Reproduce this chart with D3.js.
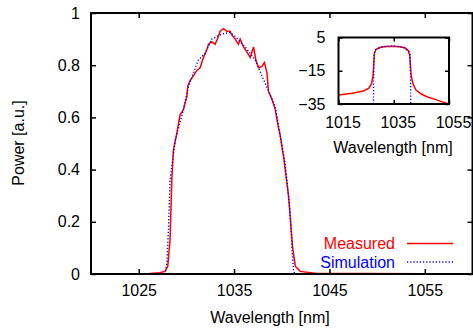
<!DOCTYPE html>
<meta charset="utf-8">
<script src="https://d3js.org/d3.v7.min.js"></script>
<style>
  body { margin: 0; background: #fff; }
  text { font-family: "Liberation Sans", Arial, sans-serif; }
</style>
<div id="chart"></div>
<script>
// main spectrum, linear power
var measWl = [1020, 1026.2, 1027.2, 1027.75, 1028.05, 1028.29, 1028.47, 1028.64, 1029.0, 1029.34, 1029.69, 1030.05, 1030.15, 1030.39,
  1030.74, 1031.1, 1031.44, 1031.79, 1032.15, 1032.32, 1032.67, 1033.02, 1033.36, 1033.54, 1033.89, 1034.25, 1034.59, 1034.77,
  1035.12, 1035.46, 1035.64, 1035.99, 1036.35, 1036.69, 1036.87, 1037.04, 1037.29, 1037.56, 1037.92, 1038.19, 1038.45, 1038.61,
  1038.97, 1039.32, 1039.66, 1039.84, 1040.19, 1040.71, 1041.13, 1041.42, 1041.94, 1043.5, 1060];
var measPow = [0, 0.002, 0.005, 0.01, 0.03, 0.13, 0.36, 0.475, 0.54, 0.61, 0.63, 0.68, 0.72, 0.74,
  0.76, 0.78, 0.79, 0.83, 0.86, 0.88, 0.89, 0.88, 0.91, 0.93, 0.94, 0.93, 0.93, 0.915,
  0.90, 0.88, 0.90, 0.87, 0.85, 0.83, 0.85, 0.87, 0.82, 0.79, 0.795, 0.81, 0.77, 0.70,
  0.67, 0.63, 0.56, 0.53, 0.45, 0.30, 0.105, 0.03, 0.01, 0.003, 0];

var simWl = [1020, 1027.77, 1027.95, 1028.12, 1028.29, 1028.82, 1029.69, 1030.21, 1031.26, 1031.97, 1032.67, 1033.71, 1034.59,
  1035.12, 1036.17, 1037.22, 1038.27, 1039.32, 1039.84, 1040.37, 1040.89, 1041.07, 1041.24, 1041.4, 1060];
var simPow = [0, 0, 0.04, 0.17, 0.36, 0.51, 0.63, 0.72, 0.82, 0.845, 0.90, 0.92, 0.925,
  0.91, 0.87, 0.82, 0.73, 0.64, 0.53, 0.42, 0.23, 0.10, 0.01, 0, 0];

// inset, dB scale
var insetMeasWl = [1015, 1020, 1024, 1026, 1027, 1027.5, 1028, 1028.5, 1030, 1032, 1035, 1037, 1039, 1040.3, 1040.8,
  1041.3, 1042, 1043, 1045, 1047, 1050, 1053, 1055];
var insetMeasDb = [-29.6, -28.5, -27.2, -25.5, -22.6, -18, -4.5, -2.2, -1, -0.4, -0.2, -0.5, -1.2, -3, -6,
  -18, -23, -26.5, -29, -30.6, -32.2, -34, -35];
var insetSimWl = [1027.65, 1027.7, 1027.9, 1028.5, 1030, 1032, 1035, 1037, 1039, 1040.3, 1040.9, 1041.1, 1041.15];
var insetSimDb = [-35, -20, -5, -2.2, -1, -0.4, -0.2, -0.5, -1.2, -3, -5, -20, -35];

var xTicks = [1025, 1035, 1045, 1055];
var yTicks = [0, 0.2, 0.4, 0.6, 0.8, 1];
var insetXTicks = [1015, 1035, 1055];
var insetYTicks = [5, -15, -35];

var W = 473, H = 330;
var svg = d3.select("#chart").append("svg").attr("width", W).attr("height", H);

var x = d3.scaleLinear().domain([1020, 1060]).range([91, 472.5]);
var y = d3.scaleLinear().domain([0, 1]).range([274, 13]);

// curves first, frame on top
var line = function (xs, ys, xw, yv) {
  return d3.line().x(function (d) { return xs(d[0]); }).y(function (d) { return ys(d[1]); })(d3.zip(xw, yv));
};

svg.append("path").attr("d", line(x, y, measWl, measPow))
  .attr("fill", "none").attr("stroke", "#ff0000").attr("stroke-width", 1.5);
svg.append("path").attr("d", line(x, y, simWl, simPow))
  .attr("fill", "none").attr("stroke", "#0000ff").attr("stroke-width", 1.4).attr("stroke-dasharray", "1.2,2");

// axes
var fs = "16px";
var gx = svg.append("g").attr("transform", "translate(0,274)")
  .call(d3.axisBottom(x).tickValues(xTicks).tickFormat(d3.format("d")).tickSizeInner(-5).tickSizeOuter(0).tickPadding(11));
var gxt = svg.append("g").attr("transform", "translate(0,13)")
  .call(d3.axisTop(x).tickValues(xTicks).tickFormat("").tickSizeInner(-5).tickSizeOuter(0));
var gy = svg.append("g").attr("transform", "translate(91,0)")
  .call(d3.axisLeft(y).tickValues(yTicks).tickFormat(d3.format("")).tickSizeInner(-5).tickSizeOuter(0).tickPadding(11));
var gyr = svg.append("g").attr("transform", "translate(472.5,0)")
  .call(d3.axisRight(y).tickValues(yTicks).tickFormat("").tickSizeInner(-5).tickSizeOuter(0));
[gx, gxt, gy, gyr].forEach(function (g) {
  g.select(".domain").remove();
  g.selectAll("line").attr("stroke", "#000").attr("stroke-width", 1.5);
  g.selectAll("text").attr("font-size", fs).attr("fill", "#000").style("font-family", "Liberation Sans, Arial, sans-serif");
});
svg.append("rect").attr("x", 91).attr("y", 13).attr("width", 381.5).attr("height", 261)
  .attr("fill", "none").attr("stroke", "#000").attr("stroke-width", 2);

svg.append("text").attr("x", 270).attr("y", 323).attr("text-anchor", "middle")
  .attr("font-size", fs).text("Wavelength [nm]");
svg.append("text").attr("transform", "translate(24,143) rotate(-90)").attr("text-anchor", "middle")
  .attr("font-size", fs).text("Power [a.u.]");

// legend
var legend = [["Measured", "#ff0000", null, 243.5], ["Simulation", "#0000ff", "1.2,2", 262]];
legend.forEach(function (l) {
  svg.append("text").attr("x", 395).attr("y", l[3] + 5.5).attr("text-anchor", "end")
    .attr("font-size", fs).attr("fill", l[1]).text(l[0]);
  svg.append("line").attr("x1", 407).attr("x2", 453).attr("y1", l[3]).attr("y2", l[3])
    .attr("stroke", l[1]).attr("stroke-width", 1.4).attr("stroke-dasharray", l[2]);
});

// inset
var xi = d3.scaleLinear().domain([1015, 1055]).range([338.5, 449]);
var yi = d3.scaleLinear().domain([-35, 5]).range([104, 37.5]);
svg.append("rect").attr("x", 338.5).attr("y", 37.5).attr("width", 110.5).attr("height", 66.5).attr("fill", "#fff");
svg.append("path").attr("d", line(xi, yi, insetMeasWl, insetMeasDb))
  .attr("fill", "none").attr("stroke", "#ff0000").attr("stroke-width", 1.5);
svg.append("path").attr("d", line(xi, yi, insetSimWl, insetSimDb))
  .attr("fill", "none").attr("stroke", "#0000ff").attr("stroke-width", 1.4).attr("stroke-dasharray", "1.2,2");

var ix = svg.append("g").attr("transform", "translate(0,104)")
  .call(d3.axisBottom(xi).tickValues(insetXTicks).tickFormat(d3.format("d")).tickSizeInner(-4).tickSizeOuter(0).tickPadding(13));
var ixt = svg.append("g").attr("transform", "translate(0,37.5)")
  .call(d3.axisTop(xi).tickValues(insetXTicks).tickFormat("").tickSizeInner(-4).tickSizeOuter(0));
var iy = svg.append("g").attr("transform", "translate(338.5,0)")
  .call(d3.axisLeft(yi).tickValues(insetYTicks).tickSizeInner(-4).tickSizeOuter(0).tickPadding(13));
var iyr = svg.append("g").attr("transform", "translate(449,0)")
  .call(d3.axisRight(yi).tickValues(insetYTicks).tickFormat("").tickSizeInner(-4).tickSizeOuter(0));
[ix, ixt, iy, iyr].forEach(function (g) {
  g.select(".domain").remove();
  g.selectAll("line").attr("stroke", "#000").attr("stroke-width", 1.5);
  g.selectAll("text").attr("font-size", fs).attr("fill", "#000").style("font-family", "Liberation Sans, Arial, sans-serif");
});
ix.selectAll("text").attr("dx", 4);
svg.append("rect").attr("x", 338.5).attr("y", 37.5).attr("width", 110.5).attr("height", 66.5)
  .attr("fill", "none").attr("stroke", "#000").attr("stroke-width", 2);
svg.append("text").attr("x", 393).attr("y", 153).attr("text-anchor", "middle")
  .attr("font-size", fs).text("Wavelength [nm]");
</script>
